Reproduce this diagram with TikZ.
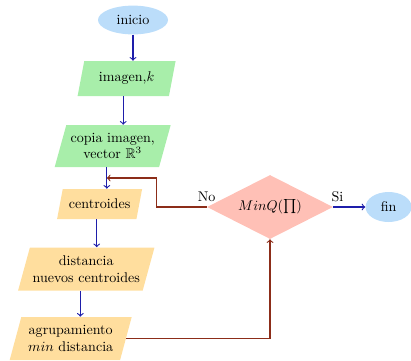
\documentclass[tikz,border=0pt]{standalone}
\usepackage{amsmath, amssymb}
\usepackage{tikz}
\usetikzlibrary{positioning, shapes.geometric, calc}
\usepackage{xcolor}
\definecolor{celeste}{RGB}{187,221,250}
\definecolor{verdeclaro}{RGB}{168,238,170}
\definecolor{naranjaclaro}{RGB}{255,222,158}
\definecolor{salmon}{RGB}{255,192,182}
\definecolor{azulflecha}{RGB}{30,30,170}
\definecolor{cafe}{RGB}{140,45,25}

\begin{document}
\begin{tikzpicture}[
            terminal/.style={ellipse, fill=celeste, inner sep=2pt},
            datos/.style={trapezium, trapezium left angle=70, trapezium right angle=110,
                trapezium stretches body, align=center, inner sep=2pt},
            decision/.style={diamond, fill=salmon, aspect=2, inner sep=1pt},
            etiqueta/.style={above, text=black},
            flecha/.style={->, thick, azulflecha},
            retro/.style={->, thick, cafe}
        ]
            \useasboundingbox (0,0) rectangle (10.275,-9);

            \node[terminal, minimum width=1.75cm, minimum height=0.72cm] (inicio) at (3.325,-0.5) {inicio};
            \node[datos, fill=verdeclaro, minimum width=2.45cm, minimum height=0.875cm] (imagen) at (3.165,-1.9625) {imagen,$k$};
            \node[datos, fill=verdeclaro, minimum width=2.9cm, minimum height=1.05cm] (copia) at (2.8175,-3.65) {copia imagen,\\ vector $\mathbb{R}^3$};
            \node[datos, fill=naranjaclaro, minimum width=2.125cm, minimum height=0.75cm] (centroides) at (2.49,-5.1) {centroides};
            \node[datos, fill=naranjaclaro, minimum width=3.325cm, minimum height=1.075cm] (distancia) at (2.1575,-6.725) {distancia\\ nuevos centroides};
            \node[datos, fill=naranjaclaro, minimum width=3.05cm, minimum height=1.075cm] (agrupamiento) at (1.7675,-8.4625) {agrupamiento\\ $min$ distancia};

            \node[decision, minimum width=3.15cm, minimum height=1.6cm] (minq) at (6.75,-5.175) {$MinQ(\prod)$};
            \node[terminal, minimum width=1.15cm, minimum height=0.75cm, right=0.8cm of minq] (fin) {fin};

            \coordinate (imagen-s) at ($(imagen.bottom left corner)!0.5!(imagen.bottom right corner)$);
            \coordinate (copia-s) at ($(copia.bottom left corner)!0.5!(copia.bottom right corner)$);
            \coordinate (centroides-s) at ($(centroides.bottom left corner)!0.5!(centroides.bottom right corner)$);
            \coordinate (distancia-s) at ($(distancia.bottom left corner)!0.5!(distancia.bottom right corner)$);

            \draw[flecha] (inicio.south) -- (inicio.south |- imagen.north);
            \draw[flecha] (imagen-s) -- (imagen-s |- copia.north);
            \draw[flecha] (copia-s) -- coordinate (regreso) (copia-s |- centroides.north);
            \draw[flecha] (centroides-s) -- (centroides-s |- distancia.north);
            \draw[flecha] (distancia-s) -- (distancia-s |- agrupamiento.north);

            \draw[retro] (agrupamiento.right side) -| (minq.south);
            \draw[retro] (minq.west) node[etiqueta] (no) {No} -- ++(-1.25,0) |- (regreso);
            \draw[flecha] (minq.east) node[etiqueta, xshift=3pt] (si) {Si} -- (fin.west);
        \end{tikzpicture}
\end{document}
